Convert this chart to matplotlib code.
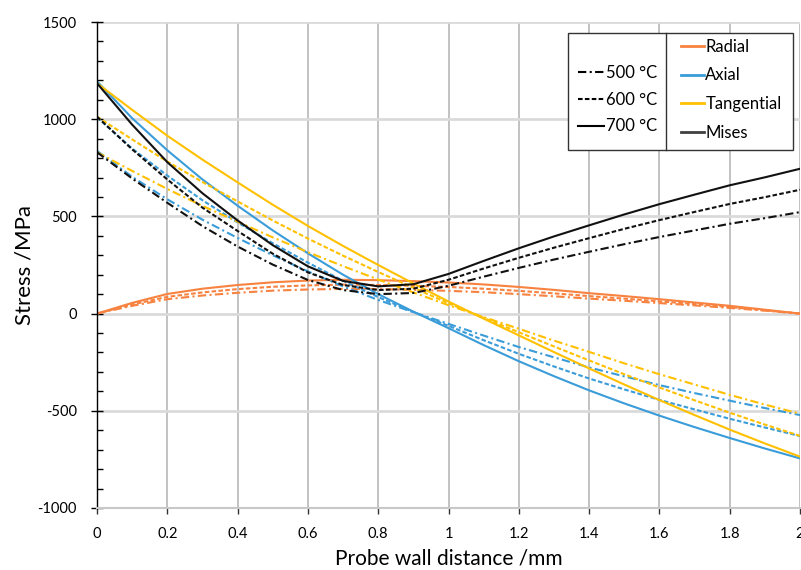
import numpy as np
import matplotlib
matplotlib.use('Agg')
import matplotlib.pyplot as plt
from matplotlib.lines import Line2D
from matplotlib.patches import Rectangle

plt.rcParams['font.family'] = ['Lato', 'DejaVu Sans']
plt.rcParams['axes.unicode_minus'] = False

distance = [0.0, 0.1, 0.2, 0.3, 0.4, 0.5, 0.6, 0.7, 0.8, 0.9, 1.0,
            1.1, 1.2, 1.3, 1.4, 1.5, 1.6, 1.7, 1.8, 1.9, 2.0]

radial_700 = [0, 55, 101, 128, 147, 161, 170, 174, 172, 167, 160, 150, 137, 122, 105, 90, 74, 57, 40, 20, 0]
radial_600 = [0, 47, 86, 109, 126, 138, 145, 149, 147, 143, 137, 128, 117, 104, 90, 77, 63, 49, 34, 17, 0]
radial_500 = [0, 40, 74, 93, 107, 118, 124, 127, 126, 122, 117, 110, 100, 89, 77, 66, 54, 42, 29, 15, 0]

axial_700 = [1195, 1005, 840, 690, 555, 428, 310, 200, 100, 10, -75, -162, -245, -322, -395, -462, -525, -584, -640, -694, -745]
axial_600 = [1010, 849, 710, 583, 469, 362, 262, 169, 85, 8, -63, -137, -207, -272, -334, -390, -444, -493, -541, -586, -630]
axial_500 = [837, 704, 588, 483, 389, 300, 217, 140, 70, 7, -53, -113, -172, -225, -277, -323, -368, -409, -448, -486, -522]

tangential_700 = [1185, 1048, 915, 792, 675, 560, 451, 348, 250, 155, 62, -26, -112, -198, -282, -365, -445, -522, -597, -668, -736]
tangential_600 = [1013, 896, 782, 677, 577, 479, 386, 298, 214, 133, 53, -22, -96, -169, -241, -312, -380, -446, -510, -571, -629]
tangential_500 = [830, 734, 641, 554, 473, 392, 316, 244, 175, 109, 43, -18, -78, -139, -197, -256, -312, -365, -418, -468, -515]

mises_700 = [1185, 972, 779, 619, 479, 352, 243, 168, 140, 151, 204, 271, 336, 397, 454, 510, 563, 612, 660, 701, 745]
mises_600 = [1013, 845, 690, 545, 425, 308, 212, 147, 121, 128, 174, 232, 287, 339, 388, 436, 481, 523, 564, 599, 637]
mises_500 = [830, 695, 570, 450, 345, 252, 173, 121, 100, 106, 143, 190, 235, 278, 318, 357, 394, 428, 462, 491, 522]

temperatures = ['500 °C', '600 °C', '700 °C']
components = ['Radial', 'Axial', 'Tangential', 'Mises']

series = {
    ('Radial', '500 °C'): radial_500, ('Radial', '600 °C'): radial_600, ('Radial', '700 °C'): radial_700,
    ('Axial', '500 °C'): axial_500, ('Axial', '600 °C'): axial_600, ('Axial', '700 °C'): axial_700,
    ('Tangential', '500 °C'): tangential_500, ('Tangential', '600 °C'): tangential_600, ('Tangential', '700 °C'): tangential_700,
    ('Mises', '500 °C'): mises_500, ('Mises', '600 °C'): mises_600, ('Mises', '700 °C'): mises_700,
}

colors = {'Radial': '#F8823F', 'Axial': '#3A9CD8', 'Tangential': '#FFC000', 'Mises': '#111111'}
styles = {'500 °C': (0, (4, 1.6, 1, 1.6)), '600 °C': (0, (2.2, 1.1)), '700 °C': '-'}

fig = plt.figure(figsize=(8.01, 5.70), dpi=100)
ax = fig.add_axes([0.1211, 0.1088, 0.8777, 0.8526])

for comp in components:
    for temp in temperatures:
        ax.plot(distance, series[(comp, temp)], color=colors[comp], linestyle=styles[temp], lw=1.5)

ax.set_xlim(0, 2)
ax.set_ylim(-1000, 1500)
ax.set_xticks(np.arange(0, 2.01, 0.2))
ax.set_xticklabels(['0', '0.2', '0.4', '0.6', '0.8', '1', '1.2', '1.4', '1.6', '1.8', '2'])
ax.set_yticks(np.arange(-1000, 1501, 500))
ax.set_yticks(np.arange(-1000, 1501, 100), minor=True)

ax.xaxis.grid(True, color='#BDBDBD', lw=1.3)
ax.yaxis.grid(True, color='#DADADA', lw=2.0)
ax.set_axisbelow(True)

for s in ['top', 'right']:
    ax.spines[s].set_visible(False)
ax.spines['bottom'].set_color('#C8C8C8')
ax.spines['bottom'].set_linewidth(1.5)
ax.spines['left'].set_color('black')
ax.spines['left'].set_linewidth(1.0)

ax.tick_params(axis='x', direction='out', length=4, width=1, color='#333333', labelsize=10.5, pad=10)
ax.tick_params(axis='y', which='major', direction='inout', length=9, width=1, labelsize=10.5, pad=10)
ax.tick_params(axis='y', which='minor', direction='in', length=4, width=1)

ax.set_xlabel('Probe wall distance /mm', fontsize=15, labelpad=5)
ax.set_ylabel('Stress /MPa', fontsize=16, labelpad=2)

# legend box with two columns
ax.add_patch(Rectangle((0.670, 0.737), 0.320, 0.240, transform=ax.transAxes,
                       facecolor='white', edgecolor='#333333', lw=1.0, zorder=5))
ax.add_line(Line2D([0.809, 0.809], [0.737, 0.977], transform=ax.transAxes,
                   color='#333333', lw=1.0, zorder=6))

temp_handles = [Line2D([], [], color='black', linestyle=styles[t], lw=1.5) for t in temperatures]
leg1 = ax.legend(temp_handles, temperatures, loc='upper left', bbox_to_anchor=(0.684, 0.912),
                 frameon=False, fontsize=12, handlelength=1.55, handletextpad=0.12,
                 labelspacing=0.65, borderpad=0, borderaxespad=0)
leg1.set_zorder(7)
ax.add_artist(leg1)

comp_colors = ['#F8823F', '#3A9CD8', '#FFC000', '#404040']
comp_handles = [Line2D([], [], color=c, lw=2.0) for c in comp_colors]
leg2 = ax.legend(comp_handles, components, loc='upper left', bbox_to_anchor=(0.831, 0.966),
                 frameon=False, fontsize=12, handlelength=1.35, handletextpad=0.1,
                 labelspacing=0.77, borderpad=0, borderaxespad=0)
leg2.set_zorder(7)

fig.savefig('out.png', dpi=100)
